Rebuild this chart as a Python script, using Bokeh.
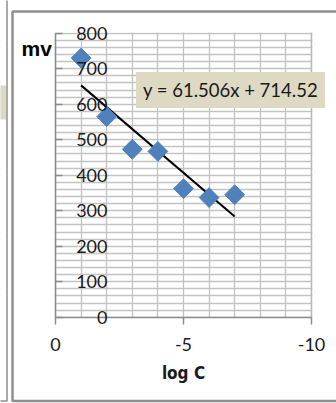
import numpy as np
from bokeh.plotting import figure
from bokeh.models import (Range1d, SingleIntervalTicker, FixedTicker, Label,
                          BoxAnnotation)
from bokeh.embed import file_html
from bokeh.resources import INLINE

# measured potential (mV) against log of concentration
log_c = [-1, -2, -3, -4, -5, -6, -7]
mv = [730, 565, 473, 467, 362, 337, 345]

# linear trendline reported on the chart
slope = 61.506
intercept = 714.52

x_ticks = [0, -5, -10]
x_tick_labels = ["0", "-5", "-10"]
y_ticks = [0, 100, 200, 300, 400, 500, 600, 700, 800]

GRID = "#c3c3c3"
AXIS = "#8c8c8c"
BORDER = "#8f8f8f"
TEXT = "#1a1a1a"
FONT = "Lato"

W, H = 336, 403
# the plot area spans x 0..-10 and 0..800 mV; the canvas around it holds
# the chart border and titles, so the ranges reach out to the canvas edges
X0_PX, X_SCALE = 55.0, 25.6      # pixel of x=0, pixels per unit of log C
Y0_PX, Y_SCALE = 316.7, 0.355    # pixel of 0 mV, pixels per mV


def dx(px):
    return (X0_PX - px) / X_SCALE


def dy(py):
    return (Y0_PX - py) / Y_SCALE


p = figure(width=W, height=H, min_border=0,
           x_range=Range1d(dx(0), dx(W)), y_range=Range1d(dy(H), dy(0)),
           output_backend="svg", toolbar_location=None,
           background_fill_color="white", border_fill_color="white")
p.outline_line_color = None

# grid: one line per unit of log C, one per 20 mV
p.xgrid.ticker = SingleIntervalTicker(interval=1)
p.ygrid.ticker = SingleIntervalTicker(interval=20)
p.xgrid.bounds = (-10, 0)
p.ygrid.bounds = (0, 800)
for g in (p.xgrid, p.ygrid):
    g.grid_line_color = GRID
    g.grid_line_width = 1.3

# keep the grid inside the plot area
xmin, xmax = x_ticks[-1], x_ticks[0]
ymin, ymax = y_ticks[0], y_ticks[-1]
eps_x, eps_y = 0.03, 2
for box in (dict(left=dx(-50), right=xmax + eps_x),
            dict(left=xmin - eps_x, right=dx(W + 50)),
            dict(bottom=ymax + eps_y, top=dy(-50)),
            dict(bottom=dy(H + 50), top=ymin - eps_y)):
    p.add_layout(BoxAnnotation(**box, fill_color="white", fill_alpha=1,
                               line_alpha=0, level="underlay"))

# chart border and the edge of the neighbouring panel
p.line([dx(W + 10), dx(12), dx(12), dx(W + 10)],
       [dy(11), dy(11), dy(400.5), dy(400.5)],
       line_color=BORDER, line_width=2.5)
p.line([dx(-10), dx(6.5), dx(6.5)], [dy(400.5), dy(400.5), dy(-10)],
       line_color=BORDER, line_width=1.5)
p.add_layout(BoxAnnotation(left=dx(-60), right=dx(5.5), top=dy(85),
                           bottom=dy(119), fill_color="#ddd9c3",
                           fill_alpha=1, line_alpha=0))

# x axis
xa = p.xaxis[0]
xa.fixed_location = 0
xa.bounds = (xmin, xmax)
xa.ticker = FixedTicker(ticks=x_ticks)
xa.major_label_overrides = dict(zip(x_ticks, x_tick_labels))
xa.major_tick_out = 7
xa.major_tick_in = 0
xa.minor_tick_line_color = None
xa.axis_line_color = AXIS
xa.axis_line_width = 1.5
xa.major_tick_line_color = AXIS
xa.major_tick_line_width = 1.5
xa.major_label_standoff = 14
xa.major_label_text_font = FONT
xa.major_label_text_font_size = "18px"
xa.major_label_text_color = TEXT
xa.axis_label = "log C"
xa.axis_label_text_font = "DejaVu Sans Condensed"
xa.axis_label_text_font_style = "bold"
xa.axis_label_text_font_size = "17px"
xa.axis_label_text_color = TEXT
xa.axis_label_standoff = 8

# y axis: labels sit just inside the plot area
ya = p.yaxis[0]
ya.fixed_location = 0
ya.bounds = (ymin, ymax)
ya.ticker = FixedTicker(ticks=y_ticks)
ya.major_tick_out = 0
ya.major_tick_in = 7
ya.minor_tick_line_color = None
ya.axis_line_color = AXIS
ya.axis_line_width = 1.5
ya.major_tick_line_color = AXIS
ya.major_tick_line_width = 1.5
ya.major_label_standoff = -52
ya.major_label_text_font = FONT
ya.major_label_text_font_size = "18px"
ya.major_label_text_color = TEXT

# darker right edge of the plot area
p.add_layout(BoxAnnotation(left=xmin, right=xmin, bottom=ymin, top=ymax,
                           fill_alpha=0, line_color="#a0a0a0", line_width=2))

# trendline across the measured range
tx = np.array([max(log_c), min(log_c)], dtype=float)
p.line(tx, slope * tx + intercept, line_color="black", line_width=2)

# measurements as diamonds
p.scatter(log_c, mv, marker="square", angle=np.pi / 4, size=14,
          fill_color="#4f81bd", line_color="#4f81bd")

# equation label
p.add_layout(Label(x=dx(230), y=dy(89.5),
                   text=f"y = {slope}x + {intercept}",
                   text_align="center", text_baseline="middle",
                   text_font=FONT, text_font_size="18.5px", text_color=TEXT,
                   background_fill_color="#ddd9c3", padding=7))

# y axis title
p.add_layout(Label(x=dx(21), y=dy(48), text="mv", text_align="left",
                   text_baseline="alphabetic", text_font="Liberation Sans",
                   text_font_style="bold", text_font_size="21px",
                   text_color="black"))

open("out.html", "w").write(file_html(p, INLINE))
